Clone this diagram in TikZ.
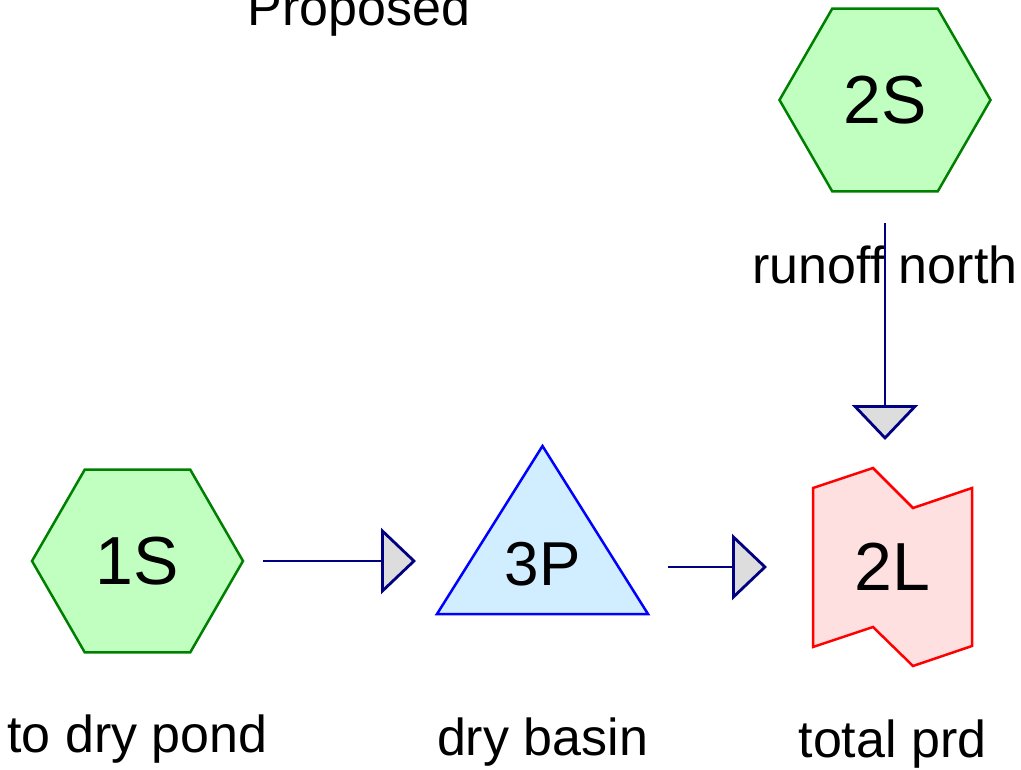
\documentclass[tikz,border=0pt]{standalone}
\usepackage{fontspec}
\setmainfont{Liberation Sans}
\usetikzlibrary{positioning,arrows.meta,shapes.geometric,backgrounds}

\definecolor{hexfill}{HTML}{C0FFC0}
\definecolor{hexdraw}{HTML}{008000}
\definecolor{pondfill}{HTML}{D0EEFF}
\definecolor{ponddraw}{HTML}{0000FF}
\definecolor{reachfill}{HTML}{FFE0E0}
\definecolor{reachdraw}{HTML}{FF0000}
\definecolor{flownavy}{HTML}{000080}
\definecolor{tipgray}{HTML}{DDDDDD}

\begin{document}
\begin{tikzpicture}[x=1pt, y=-1pt,
  subcat/.style={regular polygon, regular polygon sides=6, minimum size=211pt, inner sep=0pt, outer sep=0pt,
    draw=hexdraw, fill=hexfill, line width=2.5pt, font=\fontsize{68}{80}\selectfont},
  pondbox/.style={minimum width=211pt, minimum height=168pt, inner sep=0pt, outer sep=0pt},
  pond/.style={draw=ponddraw, fill=pondfill, line width=2.5pt},
  linkbox/.style={minimum width=159pt, minimum height=198pt, inner sep=0pt, outer sep=0pt, font=\fontsize{68}{80}\selectfont},
  link/.style={draw=reachdraw, fill=reachfill, line width=2.5pt},
  tag/.style={font=\fontsize{52}{60}\selectfont, inner sep=0pt, anchor=base},
  flow/.style={draw=flownavy, line width=2.8pt, -{Triangle[length=35pt, width=66pt, fill=tipgray]}}]
\useasboundingbox (0,0) rectangle (1021,770);

\node[tag] (title) at (359,26) {Proposed};

\node[subcat] (s1) at (137.5,561) {1S};
\node[subcat] (s2) at (885,100) {2S};
\node[pondbox, label={[font=\fontsize{62}{74}\selectfont, yshift=-34pt]center:3P}] (p3) at (542.5,530) {};
\node[linkbox] (l2) at (892.5,567) {2L};

\begin{scope}[on background layer]
  \draw[pond] (p3.south west) -- (p3.north) -- (p3.south east) -- cycle;
\end{scope}
\begin{scope}[on background layer, shift={(l2.north west)}]
  \draw[link] (0,20) -- (60,0) -- (100,40) -- (159,20) -- (159,178) -- (100,198) -- (60,159) -- (0,179) -- cycle;
\end{scope}

\node[below=100pt of s1, tag] (t1) {to dry pond};
\node[below=92pt of s2, tag] (t2) {runoff north};
\node[below=141pt of p3, tag] (t3) {dry basin};
\node[below=91pt of l2, tag] (t4) {total prd};

\draw[flow, shorten <=20pt, shorten >=21pt] (s1.east) -- (s1.east -| p3.west);
\draw[flow, shorten <=20pt, shorten >=46pt] (p3.east |- l2.west) -- (l2.west);
\draw[flow, shorten <=32pt, shorten >=28pt] (s2.south) -- (s2.south |- l2.north);
\end{tikzpicture}
\end{document}
